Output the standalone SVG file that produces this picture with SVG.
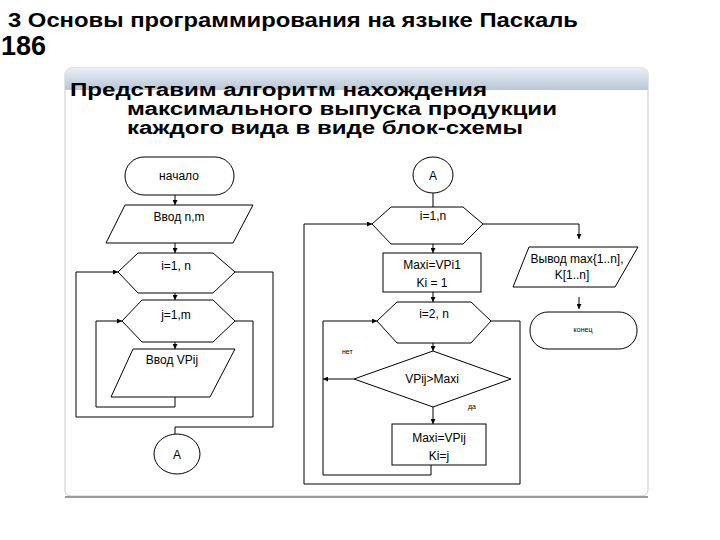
<svg xmlns="http://www.w3.org/2000/svg" width="720" height="540" viewBox="0 0 720 540">
<defs>
<linearGradient id="hb" x1="0" y1="0" x2="0" y2="1"><stop offset="0" stop-color="#e8eef5"/><stop offset="1" stop-color="#b8c6d6"/></linearGradient>
<marker id="ar" viewBox="0 0 6 6" refX="6" refY="3" markerWidth="5" markerHeight="5" orient="auto"><path d="M0,0 L6,3 L0,6 z" fill="#000"/></marker>
</defs>
<style>
.s{fill:#fff;stroke:#000;stroke-width:1}
.c{fill:none;stroke:#000;stroke-width:1}
.t{font-family:"Liberation Sans",Arial,sans-serif;font-size:12px;text-anchor:middle;fill:#000}
.sm{font-family:"Liberation Sans",Arial,sans-serif;font-size:7px;fill:#000}
.h{font-family:"Liberation Sans",Arial,sans-serif;font-weight:bold;fill:#000}
</style>
<rect width="720" height="540" fill="#fff"/>
<text class="h" x="8" y="27" font-size="20" textLength="570" lengthAdjust="spacingAndGlyphs">3 Основы программирования на языке Паскаль</text>
<text class="h" x="1" y="55" font-size="27">186</text>
<rect x="65" y="68" width="583" height="428" rx="6" fill="#fff" stroke="#c8c8c8"/>
<path d="M65,90 V74 Q65,68 71,68 H642 Q648,68 648,74 V90 Z" fill="url(#hb)"/>
<line x1="65" y1="497" x2="648" y2="497" stroke="#999" stroke-width="2"/>
<text class="h" x="70" y="96" font-size="18" textLength="417" lengthAdjust="spacingAndGlyphs">Представим алгоритм нахождения</text>
<text class="h" x="127" y="115" font-size="18" textLength="430" lengthAdjust="spacingAndGlyphs">максимального выпуска продукции</text>
<text class="h" x="127" y="134" font-size="18" textLength="396" lengthAdjust="spacingAndGlyphs">каждого вида в виде блок-схемы</text>

<g id="connectors">
<line class="c" x1="175" y1="195" x2="175" y2="205" marker-end="url(#ar)"/>
<line class="c" x1="175" y1="243" x2="175" y2="253" marker-end="url(#ar)"/>
<line class="c" x1="175" y1="293" x2="175" y2="300" marker-end="url(#ar)"/>
<line class="c" x1="175" y1="342" x2="175" y2="349" marker-end="url(#ar)"/>
<polyline class="c" points="175,397 175,407 96,407 96,321 122,321" marker-end="url(#ar)"/>
<polyline class="c" points="235,321 253,321 253,417 76,417 76,272 118,272" marker-end="url(#ar)"/>
<polyline class="c" points="235,272 273,272 273,427 175,427 175,434"/>
<line class="c" x1="433" y1="193" x2="433" y2="207"/>
<line class="c" x1="433" y1="244" x2="433" y2="253" marker-end="url(#ar)"/>
<line class="c" x1="433" y1="292" x2="433" y2="302" marker-end="url(#ar)"/>
<line class="c" x1="433" y1="343" x2="433" y2="351" marker-end="url(#ar)"/>
<line class="c" x1="433" y1="407" x2="433" y2="424" marker-end="url(#ar)"/>
<line class="c" x1="354" y1="379" x2="323" y2="379" marker-end="url(#ar)"/>
<polyline class="c" points="431,465 431,475 323,475 323,321 377,321" marker-end="url(#ar)"/>
<polyline class="c" points="491,321 520,321 520,484 304,484 304,224 372,224" marker-end="url(#ar)"/>
<polyline class="c" points="483,224 579,224 579,239" marker-end="url(#ar)"/>
<line class="c" x1="579" y1="297" x2="579" y2="309" marker-end="url(#ar)"/>
</g>

<g id="start"><rect class="s" x="125" y="157" width="109" height="38" rx="19"/><text class="t" x="179" y="180">начало</text></g>
<g id="input-nm"><polygon class="s" points="125,205 253,205 233,243 106,243"/><text class="t" x="179" y="221">Ввод n,m</text></g>
<g id="loop-i"><polygon class="s" points="118,272 138,253 213,253 235,272 213,293 138,293"/><text class="t" x="176" y="270">i=1, n</text></g>
<g id="loop-j"><polygon class="s" points="122,321 142,300 213,300 235,321 213,342 142,342"/><text class="t" x="176" y="319">j=1,m</text></g>
<g id="input-vp"><polygon class="s" points="133,349 235,349 210,397 111,397"/><text class="t" x="172" y="364">Ввод VPij</text></g>
<g id="conn-a1"><ellipse class="s" cx="177" cy="454" rx="23" ry="20"/><text class="t" x="177" y="459">A</text></g>

<g id="conn-a2"><ellipse class="s" cx="433" cy="175" rx="20" ry="18"/><text class="t" x="433" y="180">A</text></g>
<g id="loop-i2"><polygon class="s" points="372,224 391,207 463,207 483,224 463,244 391,244"/><text class="t" x="433" y="220">i=1,n</text></g>
<g id="init"><rect class="s" x="383" y="253" width="98" height="39"/><text class="t" x="432" y="269">Maxi=VPi1</text><text class="t" x="432" y="287">Ki = 1</text></g>
<g id="loop-i3"><polygon class="s" points="377,321 397,302 471,302 491,321 471,343 397,343"/><text class="t" x="434" y="318">i=2, n</text></g>
<g id="cond"><polygon class="s" points="433,351 511,379 433,407 354,379"/><text class="t" x="432" y="383">VPij&gt;Maxi</text></g>
<text class="sm" x="342" y="354">нет</text>
<text class="sm" x="468" y="409">да</text>
<g id="assign"><rect class="s" x="392" y="424" width="94" height="41"/><text class="t" x="439" y="442">Maxi=VPij</text><text class="t" x="439" y="460">Ki=j</text></g>
<g id="output"><polygon class="s" points="529,247 638,247 615,287 513,287"/><text class="t" x="577" y="263">Вывод max{1..n],</text><text class="t" x="572" y="279">K[1..n]</text></g>
<g id="end"><rect class="s" x="530" y="312" width="107" height="37" rx="18"/><text class="sm" x="583" y="332" text-anchor="middle">конец</text></g>
</svg>
